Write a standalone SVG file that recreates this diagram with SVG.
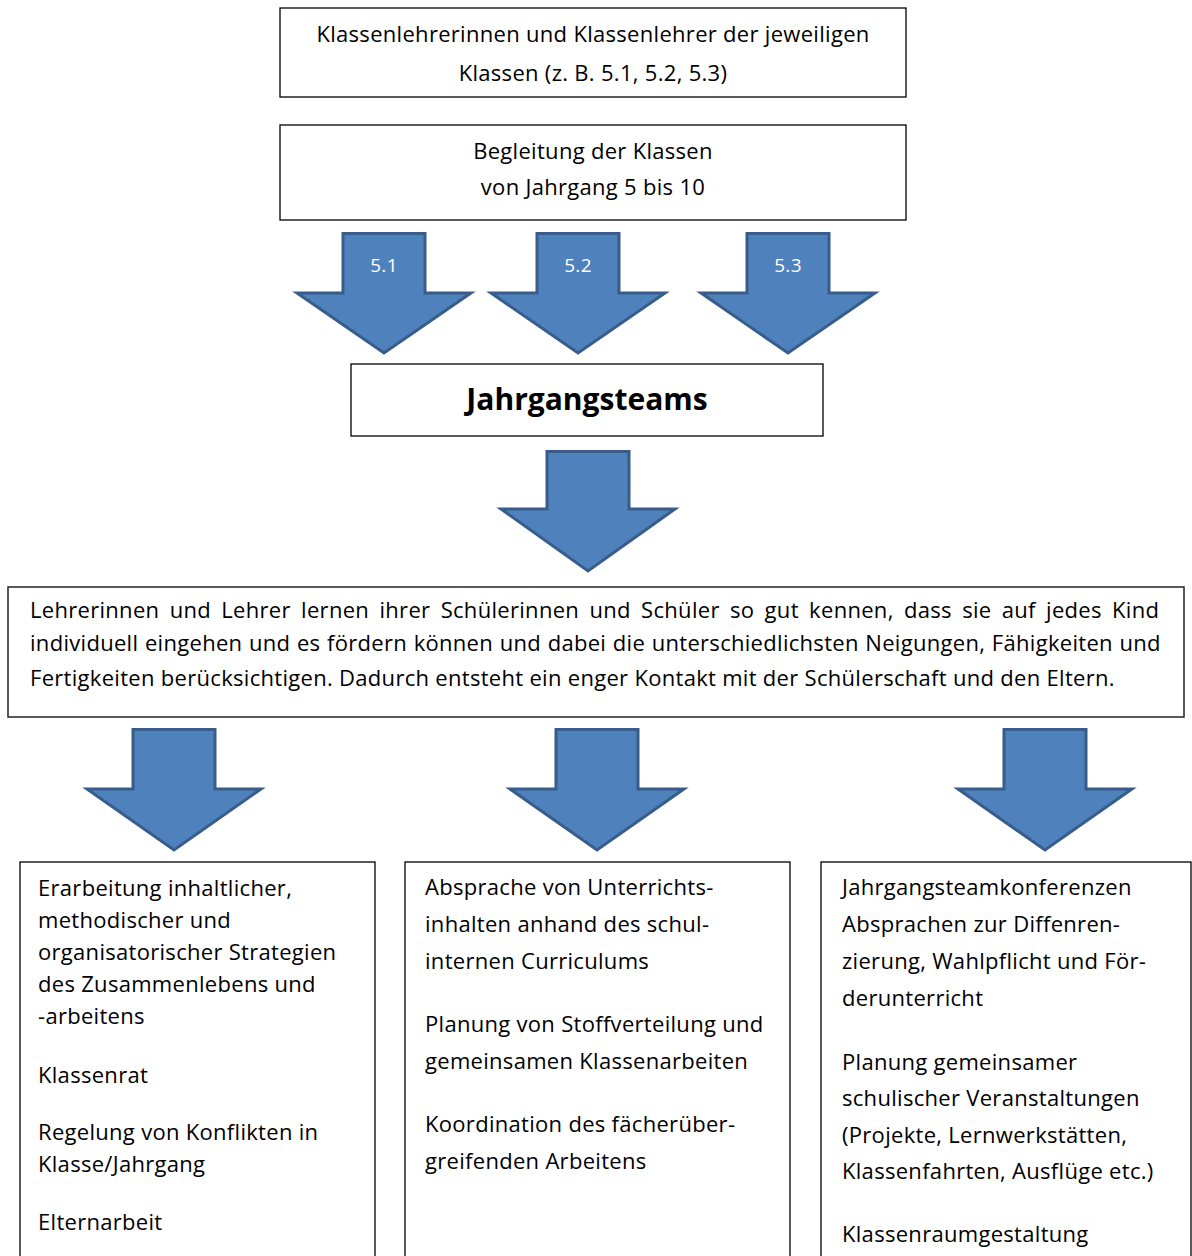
<svg xmlns="http://www.w3.org/2000/svg" width="1192" height="1256" viewBox="0 0 1192 1256">
<defs>
<style>
.box{fill:#fff;stroke:#000;stroke-width:1.3}
.t{font-family:"Open Sans","Liberation Sans",sans-serif;font-size:22px;letter-spacing:0.3px;fill:#000}
.tc{text-anchor:middle}
.b{font-family:"Open Sans","Liberation Sans",sans-serif;font-size:30px;font-weight:bold;fill:#000;text-anchor:middle}
.arrow{fill:#4F81BD;stroke:#385D8A;stroke-width:3;stroke-linejoin:miter}
.lbl{font-family:"Open Sans","Liberation Sans",sans-serif;font-size:19px;letter-spacing:0.3px;fill:#fff;text-anchor:middle}
</style>
</defs>
<rect width="1192" height="1256" fill="#fff"/>
<g id="connectors">
<path class="arrow" d="M343,233.5 H425 V293 H471 L384,353 L297,293 H343 Z"/>
<path class="arrow" d="M537,233.5 H619 V293 H665 L578,353 L491,293 H537 Z"/>
<path class="arrow" d="M747,233.5 H829 V293 H875 L788,353 L701,293 H747 Z"/>
<path class="arrow" d="M547,451.5 H629 V509 H675 L588,571 L501,509 H547 Z"/>
<path class="arrow" d="M133,729.5 H215 V789 H261 L174,850 L87,789 H133 Z"/>
<path class="arrow" d="M556,729.5 H638 V789 H684 L597,850 L510,789 H556 Z"/>
<path class="arrow" d="M1004,729.5 H1086 V789 H1132 L1045,850 L958,789 H1004 Z"/>
<text class="lbl" x="384" y="272">5.1</text>
<text class="lbl" x="578" y="272">5.2</text>
<text class="lbl" x="788" y="272">5.3</text>
</g>
<g id="node-klassenlehrer">
<rect class="box" x="280" y="8" width="626" height="89"/>
<text class="t tc" x="593" y="42">Klassenlehrerinnen und Klassenlehrer der jeweiligen</text>
<text class="t tc" x="593" y="81">Klassen (z. B. 5.1, 5.2, 5.3)</text>
</g>
<g id="node-begleitung">
<rect class="box" x="280" y="125" width="626" height="95"/>
<text class="t tc" x="593" y="159">Begleitung der Klassen</text>
<text class="t tc" x="593" y="195">von Jahrgang 5 bis 10</text>
</g>
<g id="node-jahrgangsteams">
<rect class="box" x="351" y="364" width="472" height="72"/>
<text class="b" x="587" y="410">Jahrgangsteams</text>
</g>
<g id="node-lehrer">
<rect class="box" x="8" y="587" width="1176" height="130"/>
<text class="t" x="30" y="618" word-spacing="4.3">Lehrerinnen und Lehrer lernen ihrer Schülerinnen und Schüler so gut kennen, dass sie auf jedes Kind</text>
<text class="t" x="30" y="651" word-spacing="0.6">individuell eingehen und es fördern können und dabei die unterschiedlichsten Neigungen, Fähigkeiten und</text>
<text class="t" x="30" y="686">Fertigkeiten berücksichtigen. Dadurch entsteht ein enger Kontakt mit der Schülerschaft und den Eltern.</text>
</g>
<g id="node-erarbeitung">
<rect class="box" x="20" y="862" width="355" height="420"/>
<text class="t" x="38" y="896">Erarbeitung inhaltlicher,</text>
<text class="t" x="38" y="928">methodischer und</text>
<text class="t" x="38" y="960">organisatorischer Strategien</text>
<text class="t" x="38" y="992">des Zusammenlebens und</text>
<text class="t" x="38" y="1024">-arbeitens</text>
<text class="t" x="38" y="1083">Klassenrat</text>
<text class="t" x="38" y="1140">Regelung von Konflikten in</text>
<text class="t" x="38" y="1172">Klasse/Jahrgang</text>
<text class="t" x="38" y="1230">Elternarbeit</text>
</g>
<g id="node-absprache">
<rect class="box" x="405" y="862" width="385" height="420"/>
<text class="t" x="425" y="895">Absprache von Unterrichts-</text>
<text class="t" x="425" y="932">inhalten anhand des schul-</text>
<text class="t" x="425" y="969">internen Curriculums</text>
<text class="t" x="425" y="1032">Planung von Stoffverteilung und</text>
<text class="t" x="425" y="1069">gemeinsamen Klassenarbeiten</text>
<text class="t" x="425" y="1132">Koordination des fächerüber-</text>
<text class="t" x="425" y="1169">greifenden Arbeitens</text>
</g>
<g id="node-konferenzen">
<rect class="box" x="821" y="862" width="370" height="420"/>
<text class="t" x="842" y="895">Jahrgangsteamkonferenzen</text>
<text class="t" x="842" y="932">Absprachen zur Diffenren-</text>
<text class="t" x="842" y="969">zierung, Wahlpflicht und För-</text>
<text class="t" x="842" y="1006">derunterricht</text>
<text class="t" x="842" y="1070">Planung gemeinsamer</text>
<text class="t" x="842" y="1106">schulischer Veranstaltungen</text>
<text class="t" x="842" y="1143">(Projekte, Lernwerkstätten,</text>
<text class="t" x="842" y="1179">Klassenfahrten, Ausflüge etc.)</text>
<text class="t" x="842" y="1242">Klassenraumgestaltung</text>
</g>
</svg>
